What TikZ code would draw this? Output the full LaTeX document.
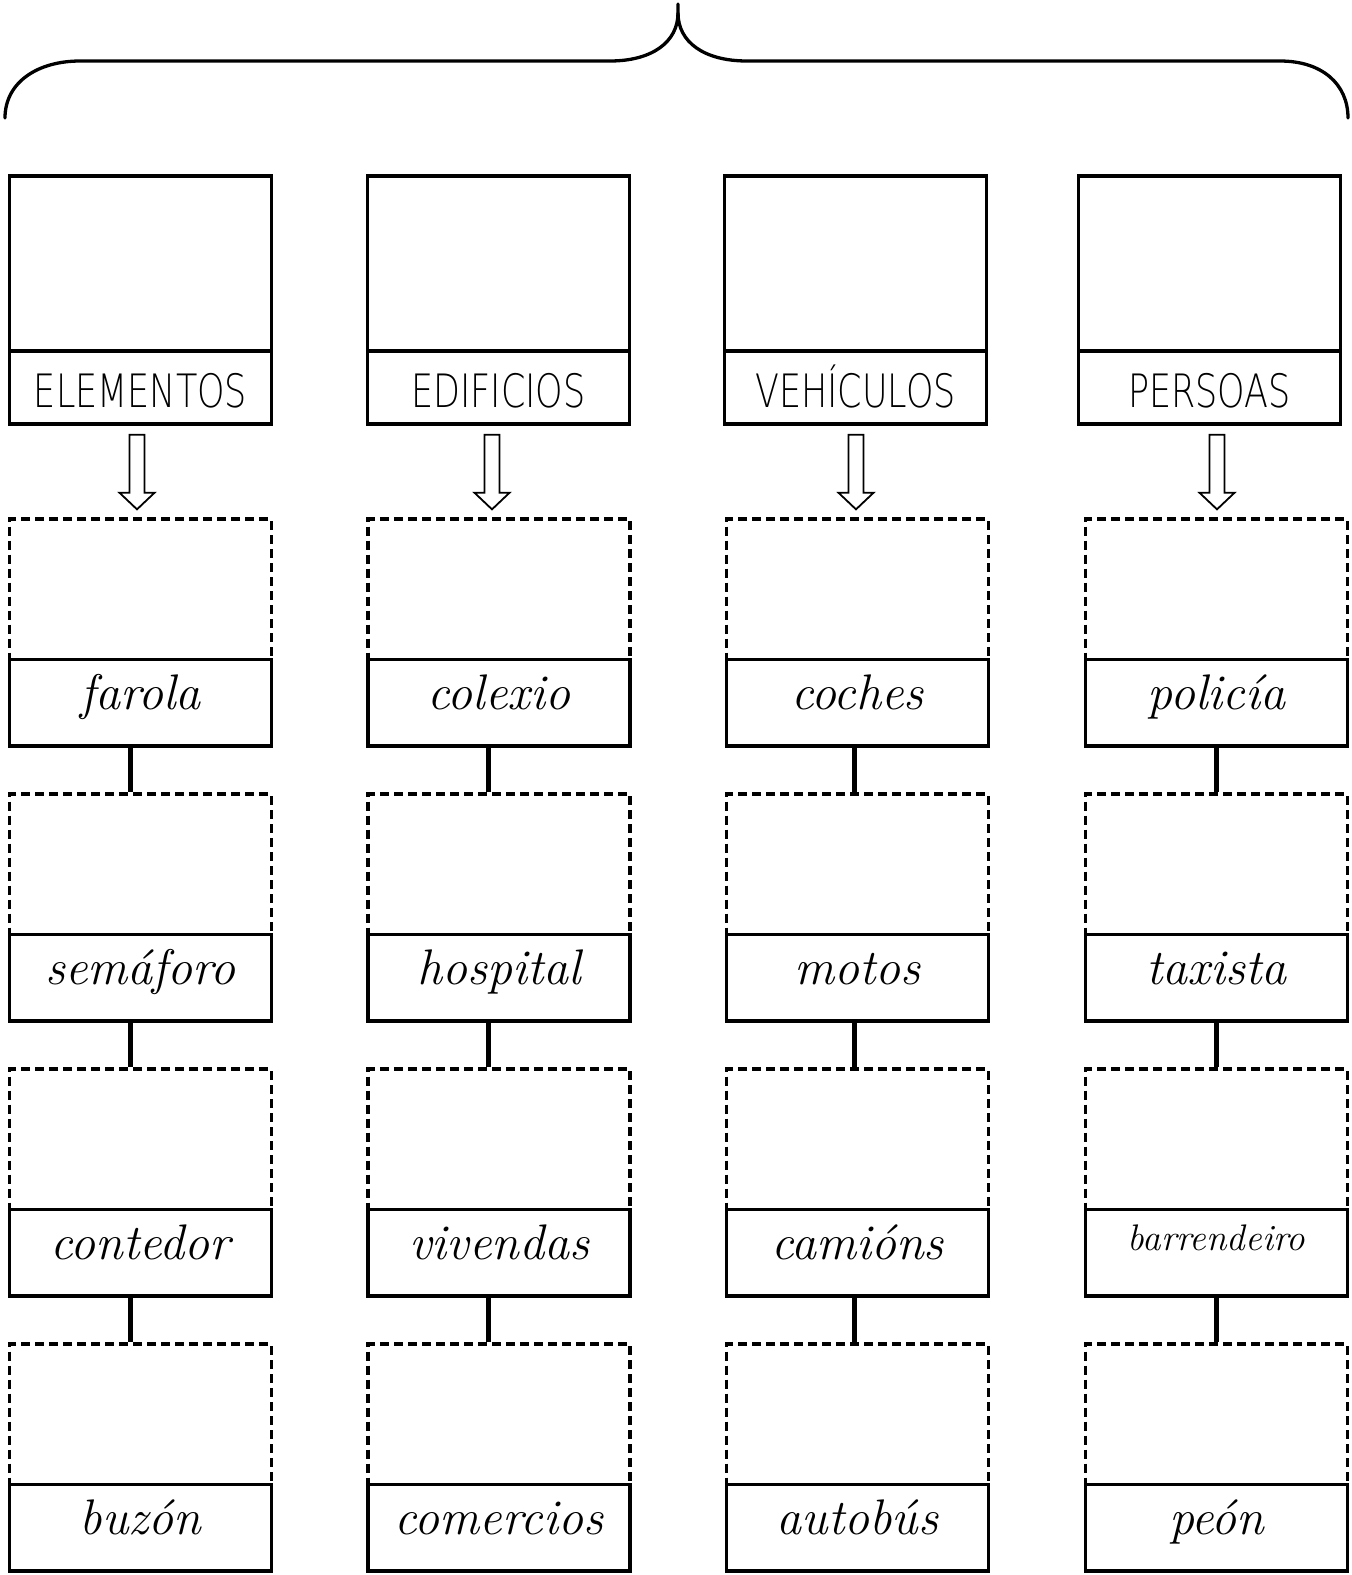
\documentclass[tikz,border=0pt]{standalone}
\usepackage{fontspec}
\newfontfamily\headfont[FakeStretch=0.76]{DejaVu Sans ExtraLight}
\usetikzlibrary{calc}
\tikzset{
  frame/.style={draw, line width=3.5pt, rectangle, inner sep=0pt, minimum width=262pt},
  hpic/.style={frame, minimum height=175pt},
  hlab/.style={frame, minimum height=73pt, text height=40pt, text depth=0pt, font=\headfont\fontsize{46}{46}\selectfont},
  dbox/.style={draw, line width=3.3pt, dash pattern=on 9pt off 5pt, rectangle, inner sep=0pt, minimum width=262pt, minimum height=140.5pt},
  lbox/.style={frame, minimum height=86.5pt},
  word/.style={anchor=base, inner sep=0pt, font=\itshape\fontsize{50}{50}\selectfont},
  smallword/.style={anchor=base, inner sep=0pt, font=\itshape\fontsize{37}{37}\selectfont},
  conn/.style={line width=5pt},
  brace/.style={line width=3.3pt, line cap=round},
  bigarrow/.style={draw, line width=1.8pt, fill=white, line join=miter}
}
\begin{document}
\begin{tikzpicture}[x=1pt,y=-1pt]
\useasboundingbox (0,0) rectangle (1352,1575);
% brace
\draw[brace] (5,118) .. controls (5,82) and (38,61) .. (80,61) -- (610,61)
  .. controls (652,61) and (678,42) .. (678,13) -- (678,4);
\draw[brace] (678,13) .. controls (678,42) and (704,61) .. (747,61) -- (1280,61)
  .. controls (1322,61) and (1348,84) .. (1348,118);

% columns: index / header centre x / box centre x / arrow x / connector x / title
\foreach \k/\hx/\bx/\ax/\cx/\title in {1/140.5/140.5/137/130/ELEMENTOS, 2/498.5/499/492/488/EDIFICIOS, 3/855.5/857.5/856/854/VEHÍCULOS, 4/1209.5/1216.5/1217/1216/PERSOAS}{
  \node[hpic] (hp\k) at (\hx,263.5) {};
  \node[hlab] (hl\k) at (\hx,387.5) {\title};
  \coordinate (ca\k) at (\ax,0);
  \coordinate (cc\k) at (\cx,0);
  \foreach \r in {0,1,2,3}{
    \node[dbox] (d\k\r) at (\bx,589.25+275*\r) {};
    \node[lbox] (l\k\r) at (\bx,702.75+275*\r) {};
  }
  \foreach \r/\s in {0/1,1/2,2/3}{
    \draw[conn] (l\k\r.south -| cc\k) -- (d\k\s.north -| cc\k);
  }
  % hollow arrow
  \path (hl\k.south -| ca\k) ++(0,9) coordinate (at\k);
  \draw[bigarrow] (at\k) ++(-7.5,0) -- ++(0,58) -- ++(-10,0) -- ($(d\k0.north -| ca\k)+(0,-8)$) -- ($(at\k)+(17.5,58)$) -- ++(-10,0) -- ++(0,-58) -- cycle;
}

% labels
\node[word] (w10) at ($(l10.center)+(0,7)$) {farola};
\node[word] (w11) at ($(l11.center)+(0,7)$) {semáforo};
\node[word] (w12) at ($(l12.center)+(0,7)$) {contedor};
\node[word] (w13) at ($(l13.center)+(0,7)$) {buzón};
\node[word] (w20) at ($(l20.center)+(0,7)$) {colexio};
\node[word] (w21) at ($(l21.center)+(0,7)$) {hospital};
\node[word] (w22) at ($(l22.center)+(0,7)$) {vivendas};
\node[word] (w23) at ($(l23.center)+(0,7)$) {comercios};
\node[word] (w30) at ($(l30.center)+(0,7)$) {coches};
\node[word] (w31) at ($(l31.center)+(0,7)$) {motos};
\node[word] (w32) at ($(l32.center)+(0,7)$) {camións};
\node[word] (w33) at ($(l33.center)+(0,7)$) {autobús};
\node[word] (w40) at ($(l40.center)+(0,7)$) {policía};
\node[word] (w41) at ($(l41.center)+(0,7)$) {taxista};
\node[smallword] (w42) at ($(l42.north)+(0,43)$) {barrendeiro};
\node[word] (w43) at ($(l43.center)+(0,7)$) {peón};
\end{tikzpicture}
\end{document}
